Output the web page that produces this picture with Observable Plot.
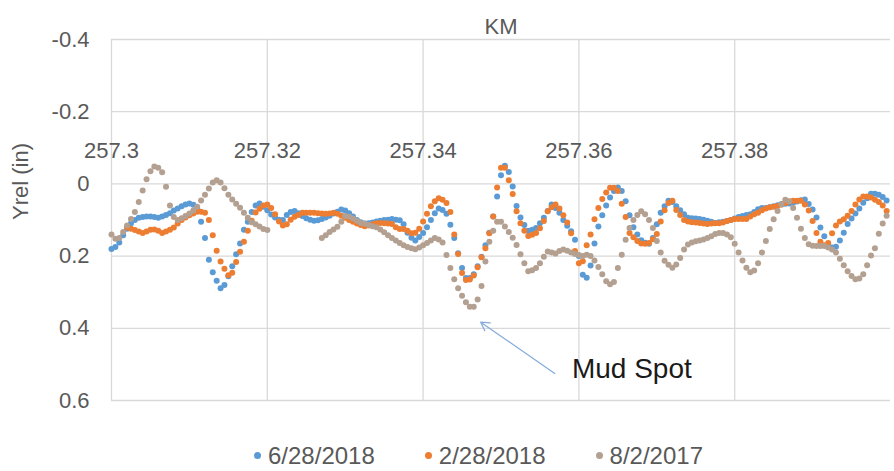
<!DOCTYPE html>
<html>
<head>
<meta charset="utf-8">
<script src="https://cdn.jsdelivr.net/npm/d3@7"></script>
<script src="https://cdn.jsdelivr.net/npm/@observablehq/plot@0.6"></script>
<style>
  body { margin: 0; background: #fff; font-family: "Liberation Sans", Arial, sans-serif; }
  #chart { width: 894px; height: 440px; }
  #legend { width: 894px; height: 31px; display: flex; justify-content: flex-start; align-items: center;
            padding-left: 254px; box-sizing: border-box; gap: 50px; font-size: 24px; color: #595959; }
  .item { display: flex; align-items: center; gap: 7px; }
  .sw { width: 7px; height: 7px; border-radius: 50%; display: inline-block; }
</style>
</head>
<body>
<div id="chart"></div>
<div id="legend"></div>
<script>
// ---- data ----
const kmStart = 257.3;
const kmStep = 0.0005;
const seriesNames = ["6/28/2018", "2/28/2018", "8/2/2017"];
const seriesColors = ["#5b9bd5", "#ed7d31", "#b4a091"];
const xTicks = [257.3, 257.32, 257.34, 257.36, 257.38];
const yTicks = [-0.4, -0.2, 0, 0.2, 0.4, 0.6];

const yrel_20180628 = [
  0.18,0.175,0.162,0.142,0.124,0.109,0.1,0.094,0.092,0.09,
  0.09,0.092,0.094,0.09,0.086,0.081,0.074,0.068,0.062,0.057,
  0.054,0.058,0.069,0.105,0.15,0.21,0.245,0.268,0.289,0.28,
  0.256,0.228,0.195,0.165,0.127,0.105,0.078,0.06,0.054,0.063,
  0.073,0.085,0.093,0.099,0.1,0.086,0.078,0.075,0.081,0.089,
  0.095,0.099,0.102,0.101,0.097,0.093,0.088,0.082,0.077,0.071,
  0.074,0.081,0.09,0.1,0.106,0.11,0.109,0.107,0.104,0.102,
  0.1,0.099,0.097,0.099,0.101,0.112,0.135,0.149,0.157,0.147,
  0.136,0.12,0.1,0.081,0.068,0.072,0.083,0.113,0.15,0.192,
  0.233,0.261,0.261,0.25,0.228,0.202,0.17,0.135,0.09,0.035,
  -0.024,-0.05,-0.033,0.007,0.061,0.093,0.114,0.13,0.127,0.122,
  0.109,0.094,0.075,0.057,0.067,0.08,0.1,0.116,0.131,0.155,
  0.2,0.252,0.26,0.226,0.165,0.118,0.087,0.06,0.038,0.02,
  0.01,0.02,0.048,0.087,0.12,0.14,0.156,0.163,0.166,0.15,
  0.112,0.08,0.062,0.047,0.05,0.062,0.073,0.084,0.094,0.095,
  0.096,0.097,0.099,0.102,0.105,0.108,0.106,0.105,0.103,0.1,
  0.096,0.092,0.089,0.086,0.084,0.078,0.07,0.067,0.067,0.065,
  0.062,0.059,0.056,0.055,0.054,0.052,0.049,0.045,0.043,0.056,
  0.071,0.093,0.121,0.145,0.169,0.176,0.174,0.157,0.135,0.111,
  0.096,0.082,0.068,0.052,0.04,0.027,0.027,0.03,0.036,0.046
];

const yrel_20180228 = [
  null,null,null,null,0.121,0.124,0.128,0.132,0.136,0.132,
  0.127,0.126,0.13,0.136,0.132,0.127,0.121,0.11,0.1,0.093,
  0.087,0.082,0.077,0.077,0.08,0.1,0.142,0.185,0.215,0.235,
  0.253,0.246,0.216,0.188,0.16,0.13,0.102,0.079,0.069,0.06,
  0.057,0.067,0.084,0.104,0.115,0.112,0.099,0.091,0.086,0.08,
  0.08,0.08,0.08,0.081,0.082,0.083,0.082,0.08,0.083,0.088,
  0.094,0.1,0.105,0.11,0.114,0.117,0.115,0.112,0.109,0.108,
  0.109,0.11,0.111,0.12,0.125,0.125,0.13,0.137,0.135,0.124,
  0.104,0.083,0.062,0.048,0.04,0.044,0.053,0.078,0.14,0.194,
  0.247,0.266,0.265,0.254,0.231,0.203,0.178,0.137,0.09,0.01,
  -0.045,-0.045,-0.01,0.028,0.076,0.109,0.13,0.144,0.141,0.136,
  0.123,0.103,0.076,0.065,0.057,0.068,0.087,0.107,0.137,0.186,
  0.22,0.214,0.17,0.14,0.098,0.067,0.042,0.024,0.011,0.011,
  0.02,0.055,0.092,0.136,0.148,0.158,0.165,0.166,0.164,0.153,
  0.139,0.104,0.073,0.053,0.047,0.072,0.086,0.1,0.104,0.106,
  0.107,0.108,0.11,0.111,0.11,0.109,0.109,0.107,0.103,0.1,
  0.097,0.097,0.097,0.097,0.09,0.084,0.08,0.073,0.068,0.065,
  0.063,0.061,0.057,0.053,0.049,0.047,0.047,0.047,0.057,0.074,
  0.103,0.136,0.16,0.17,0.164,0.137,0.115,0.104,0.098,0.088,
  0.075,0.057,0.043,0.035,0.035,0.038,0.044,0.05,0.06,0.075
];

const yrel_20170802 = [
  0.14,0.152,0.15,0.133,0.115,0.097,0.078,0.05,0.018,-0.013,
  -0.035,-0.048,-0.045,-0.032,0.008,0.06,0.092,0.1,0.095,0.089,
  0.082,0.074,0.063,0.046,0.03,0.013,-0.004,-0.01,-0.004,0.012,
  0.03,0.043,0.055,0.066,0.08,0.094,0.106,0.112,0.118,0.125,
  0.128,null,null,null,null,null,null,null,null,null,
  null,null,null,null,0.15,0.142,0.133,0.126,0.119,0.105,
  0.089,0.091,0.096,0.102,0.108,0.11,0.114,0.117,0.12,0.126,
  0.134,0.142,0.15,0.157,0.164,0.17,0.175,0.178,0.181,0.176,
  0.17,0.164,0.157,0.15,0.154,0.162,0.197,0.233,0.264,0.289,
  0.31,0.328,0.34,0.34,0.32,0.283,0.215,0.16,0.13,0.105,
  0.105,0.118,0.133,0.149,0.169,0.195,0.22,0.242,0.239,0.233,
  0.22,0.202,0.187,0.19,0.193,0.186,0.182,0.185,0.19,0.194,
  0.197,0.2,0.196,0.2,0.212,0.23,0.25,0.27,0.278,0.272,
  0.233,0.196,0.155,0.122,0.1,0.086,0.076,0.084,0.1,0.122,
  0.158,0.19,0.213,0.224,0.232,0.223,0.205,0.182,0.168,0.162,
  0.159,0.157,0.154,0.15,0.145,0.139,0.136,0.136,0.14,0.148,
  0.166,0.19,0.212,0.232,0.245,0.24,0.22,0.19,0.158,0.125,
  0.098,0.075,0.057,0.044,0.048,0.067,0.094,0.124,0.15,0.167,
  0.171,0.172,0.172,0.172,0.176,0.182,0.19,0.207,0.225,0.242,
  0.255,0.264,0.262,0.25,0.225,0.198,0.178,0.138,0.11,0.088
];

const mudSpot = { label: "Mud Spot", textKm: 257.3591, textY: 0.512,
                  fromKm: 257.3569, fromY: 0.525, toKm: 257.3474, toY: 0.383 };

// ---- table ----
const seriesValues = [yrel_20180628, yrel_20180228, yrel_20170802];
const table = [];
seriesValues.forEach((vals, s) => {
  vals.forEach((v, i) => {
    if (v !== null) table.push({ km: kmStart + i * kmStep, y: v, series: seriesNames[s] });
  });
});

const font = '"Liberation Sans", Arial, sans-serif';
const gray = "#595959";

const chart = Plot.plot({
  width: 894, height: 440,
  marginLeft: 111, marginRight: 4, marginTop: 39, marginBottom: 40,
  style: { fontFamily: font, fontSize: "22px", color: gray, background: "#fff" },
  x: { domain: [257.3, 257.4], axis: null },
  y: { domain: [-0.4, 0.6], reverse: true },
  color: { domain: seriesNames, range: seriesColors },
  marks: [
    Plot.gridY(yTicks, { stroke: "#d9d9d9", strokeOpacity: 1, strokeWidth: 1.3 }),
    Plot.gridX(xTicks, { stroke: "#d9d9d9", strokeOpacity: 1, strokeWidth: 1.3 }),
    Plot.axisY(yTicks, { tickSize: 0, tickPadding: 22, tickFormat: d => String(d), label: null,
                         fontSize: 22, fill: gray }),
    Plot.text(xTicks, { x: d => d, y: () => 0, dy: -33, text: d => String(d), fontSize: 22, fill: gray }),
    Plot.text(["KM"], { frameAnchor: "top", dy: -21, text: d => d, fontSize: 22, fill: gray }),
    Plot.text(["Yrel (in)"], { frameAnchor: "left", dx: -91, rotate: -90, text: d => d, fontSize: 22, fill: gray }),
    Plot.dot(table, { x: "km", y: "y", fill: "series", r: 3, stroke: null }),
    Plot.arrow([mudSpot], { x1: "fromKm", y1: "fromY", x2: "toKm", y2: "toY",
                            stroke: "#86acdb", strokeWidth: 1.3, headLength: 11 }),
    Plot.text([mudSpot], { x: "textKm", y: "textY", text: "label", textAnchor: "start",
                           fontSize: 28, fill: "#1a1a1a" })
  ]
});
document.getElementById("chart").appendChild(chart);

// ---- legend ----
const legend = document.getElementById("legend");
seriesNames.forEach((name, i) => {
  const item = document.createElement("div");
  item.className = "item";
  const sw = document.createElement("span");
  sw.className = "sw";
  sw.style.background = seriesColors[i];
  const t = document.createElement("span");
  t.textContent = name;
  item.appendChild(sw); item.appendChild(t);
  legend.appendChild(item);
});
</script>
</body>
</html>
